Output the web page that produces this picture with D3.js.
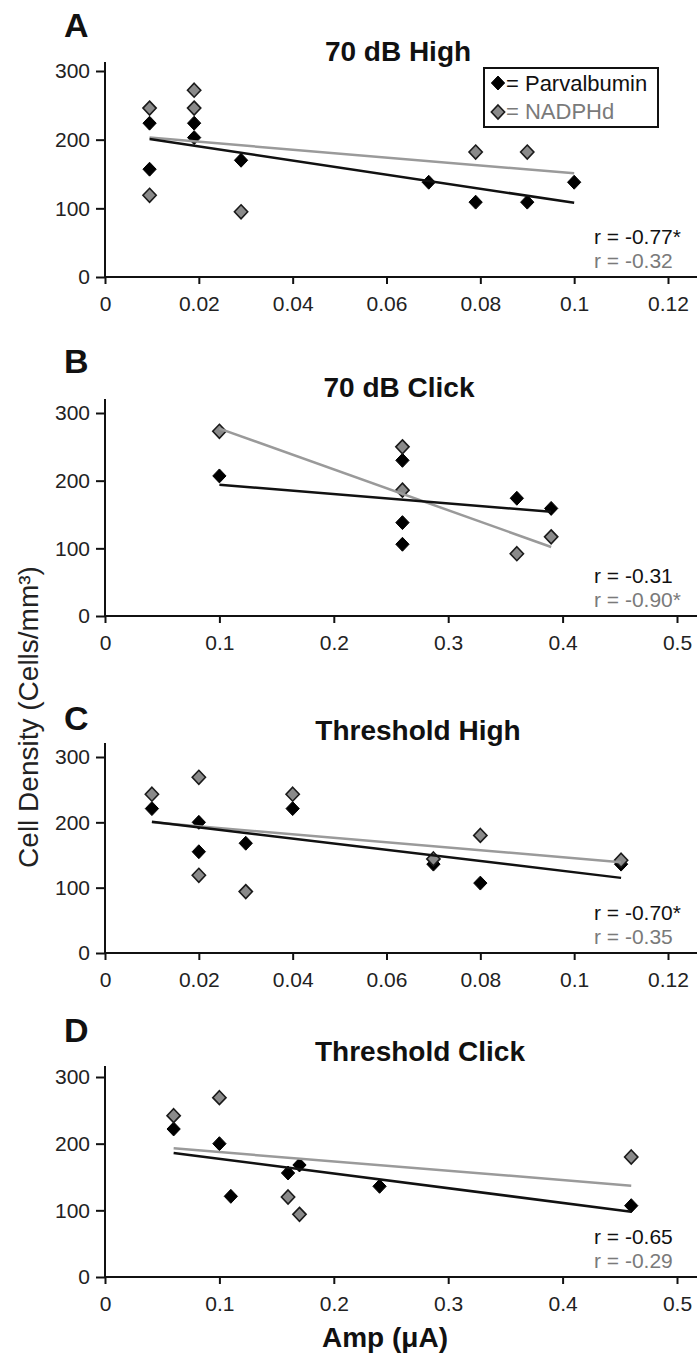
<!DOCTYPE html>
<html>
<head>
<meta charset="utf-8">
<script src="https://cdn.jsdelivr.net/npm/d3@7"></script>
<style>
  body { margin: 0; background: #fff; }
  svg { display: block; font-family: "Liberation Sans", Arial, sans-serif; }
</style>
</head>
<body>
<svg id="chart" width="697" height="1355"></svg>
<script>
// panel titles / letters
const panelLetters = ['A', 'B', 'C', 'D'];
const panelTitles = ['70 dB High', '70 dB Click', 'Threshold High', 'Threshold Click'];

// tick labels
const xTicksHigh = [0, 0.02, 0.04, 0.06, 0.08, 0.1, 0.12];
const xTicksClick = [0, 0.1, 0.2, 0.3, 0.4, 0.5];
const yTicks = [0, 100, 200, 300];

// Parvalbumin points [amp, density]
const parvA = [[0.0095, 224], [0.0095, 157], [0.019, 224], [0.019, 203], [0.029, 170], [0.069, 138], [0.079, 109], [0.09, 109], [0.1, 138]];
const parvB = [[0.1, 207], [0.26, 230], [0.26, 138], [0.26, 106], [0.36, 174], [0.39, 159]];
const parvC = [[0.01, 221], [0.02, 200], [0.02, 155], [0.03, 168], [0.04, 221], [0.07, 136], [0.08, 107], [0.11, 136]];
const parvD = [[0.06, 222], [0.1, 200], [0.11, 121], [0.16, 156], [0.17, 168], [0.24, 136], [0.46, 107]];

// NADPHd points [amp, density]
const nadA = [[0.0095, 246], [0.0095, 119], [0.019, 272], [0.019, 246], [0.029, 95], [0.079, 182], [0.09, 182]];
const nadB = [[0.1, 273], [0.26, 250], [0.26, 186], [0.36, 92], [0.39, 117]];
const nadC = [[0.01, 243], [0.02, 269], [0.02, 119], [0.03, 94], [0.04, 243], [0.07, 144], [0.08, 180], [0.11, 142]];
const nadD = [[0.06, 242], [0.1, 269], [0.16, 120], [0.17, 94], [0.46, 180]];

// regression line end points
const parvFits = [[[0.0095, 201], [0.1, 108]], [[0.1, 194], [0.39, 154]], [[0.01, 201], [0.11, 115]], [[0.06, 186], [0.46, 98]]];
const nadFits = [[[0.0095, 203], [0.1, 151]], [[0.1, 277], [0.39, 102]], [[0.01, 200], [0.11, 139]], [[0.06, 193], [0.46, 137]]];

// correlation labels
const parvR = ['r = -0.77*', 'r = -0.31', 'r = -0.70*', 'r = -0.65'];
const nadR = ['r = -0.32', 'r = -0.90*', 'r = -0.35', 'r = -0.29'];

const legendLabels = ['= Parvalbumin', '= NADPHd'];

// layout of each panel (pixels)
const layout = [
  { y0: 277, y300: 71, top: 62, xMax: 0.12, xRight: 668, ticks: xTicksHigh, titleX: 398, titleY: 61, letterY: 37 },
  { y0: 616, y300: 413, top: 399, xMax: 0.5, xRight: 677, ticks: xTicksClick, titleX: 399, titleY: 397, letterY: 373 },
  { y0: 953, y300: 757, top: 743, xMax: 0.12, xRight: 668, ticks: xTicksHigh, titleX: 418, titleY: 740, letterY: 730 },
  { y0: 1277, y300: 1077, top: 1066, xMax: 0.5, xRight: 677, ticks: xTicksClick, titleX: 420, titleY: 1061, letterY: 1042 }
];

const parvSets = [parvA, parvB, parvC, parvD];
const nadSets = [nadA, nadB, nadC, nadD];

const BLACK = '#111';
const GREY_LINE = '#9a9a9a';
const GREY_FILL = '#8a8a8a';
const GREY_TEXT = '#7a7a7a';
const X_LEFT = 105;

const diamond = {
  draw: function (ctx, size) {
    const r = Math.sqrt(size / 2);
    ctx.moveTo(0, -r * 1.05);
    ctx.lineTo(r, 0);
    ctx.lineTo(0, r * 1.05);
    ctx.lineTo(-r, 0);
    ctx.closePath();
  }
};
const symbolPath = d3.symbol().type(diamond).size(88)();

const svg = d3.select('#chart');
svg.append('rect').attr('width', 697).attr('height', 1355).attr('fill', '#fff');

layout.forEach((L, i) => {
  const g = svg.append('g');
  const x = d3.scaleLinear().domain([0, L.xMax]).range([X_LEFT, L.xRight]);
  const y = d3.scaleLinear().domain([0, 300]).range([L.y0, L.y300]);

  // letter + title
  g.append('text').attr('x', 64).attr('y', L.letterY)
    .attr('font-size', 34).attr('font-weight', 'bold').attr('fill', BLACK)
    .text(panelLetters[i]);
  g.append('text').attr('x', L.titleX).attr('y', L.titleY)
    .attr('text-anchor', 'middle').attr('font-size', 28).attr('font-weight', 'bold').attr('fill', BLACK)
    .text(panelTitles[i]);

  // axes
  const xAxis = g.append('g').attr('transform', `translate(0,${L.y0})`)
    .call(d3.axisBottom(x).tickValues(L.ticks).tickSize(7).tickPadding(12).tickFormat(d3.format('~g')));
  xAxis.select('.domain').remove();
  xAxis.append('line').attr('x1', X_LEFT).attr('x2', 697).attr('stroke', BLACK).attr('stroke-width', 2);

  const yAxis = g.append('g').attr('transform', `translate(${X_LEFT},0)`)
    .call(d3.axisLeft(y).tickValues(yTicks).tickSize(9).tickPadding(6));
  yAxis.select('.domain').remove();
  yAxis.append('line').attr('y1', L.y0).attr('y2', L.top).attr('stroke', BLACK).attr('stroke-width', 2);

  [xAxis, yAxis].forEach((ax) => {
    ax.selectAll('.tick line').attr('stroke', BLACK).attr('stroke-width', 2);
    ax.selectAll('.tick text').attr('font-size', 21).attr('fill', '#222')
      .attr('font-family', '"Liberation Sans", Arial, sans-serif');
  });

  // markers
  g.append('g').selectAll('path').data(parvSets[i]).enter().append('path')
    .attr('d', symbolPath)
    .attr('transform', (d) => `translate(${x(d[0])},${y(d[1])})`)
    .attr('fill', '#000').attr('stroke', '#000').attr('stroke-width', 1);
  g.append('g').selectAll('path').data(nadSets[i]).enter().append('path')
    .attr('d', symbolPath)
    .attr('transform', (d) => `translate(${x(d[0])},${y(d[1])})`)
    .attr('fill', GREY_FILL).attr('stroke', '#1a1a1a').attr('stroke-width', 1.6);

  // regression lines
  const line = d3.line().x((d) => x(d[0])).y((d) => y(d[1]));
  g.append('path').datum(nadFits[i]).attr('d', line)
    .attr('fill', 'none').attr('stroke', GREY_LINE).attr('stroke-width', 2.5);
  g.append('path').datum(parvFits[i]).attr('d', line)
    .attr('fill', 'none').attr('stroke', BLACK).attr('stroke-width', 2.5);

  // r values
  g.append('text').attr('x', 594).attr('y', L.y0 - 33)
    .attr('font-size', 21).attr('fill', BLACK).text(parvR[i]);
  g.append('text').attr('x', 594).attr('y', L.y0 - 9)
    .attr('font-size', 21).attr('fill', GREY_TEXT).text(nadR[i]);
});

// legend (panel A)
const legend = svg.append('g');
legend.append('rect').attr('x', 484).attr('y', 68).attr('width', 174).attr('height', 59)
  .attr('fill', '#fff').attr('stroke', BLACK).attr('stroke-width', 2);
legendLabels.forEach((label, i) => {
  legend.append('path').attr('d', symbolPath)
    .attr('transform', `translate(498,${83 + i * 29})`)
    .attr('fill', i === 0 ? '#000' : GREY_FILL)
    .attr('stroke', i === 0 ? '#000' : '#1a1a1a').attr('stroke-width', i === 0 ? 1 : 1.6);
  legend.append('text').attr('x', 506).attr('y', 91 + i * 28)
    .attr('font-size', 22).attr('fill', i === 0 ? BLACK : GREY_TEXT).text(label);
});

// shared axis titles
svg.append('text').attr('transform', 'translate(38,717) rotate(-90)')
  .attr('text-anchor', 'middle').attr('font-size', 28).attr('fill', '#222')
  .text('Cell Density (Cells/mm³)');
svg.append('text').attr('x', 385).attr('y', 1347)
  .attr('text-anchor', 'middle').attr('font-size', 28).attr('font-weight', 'bold').attr('fill', BLACK)
  .text('Amp (μA)');
</script>
</body>
</html>
